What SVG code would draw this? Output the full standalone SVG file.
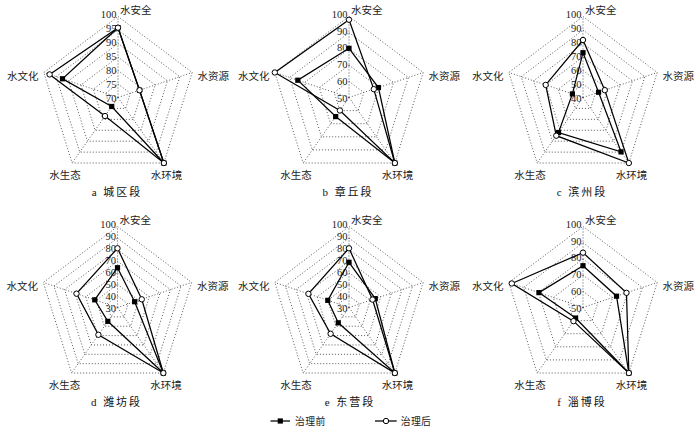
<svg xmlns="http://www.w3.org/2000/svg" xmlns:xlink="http://www.w3.org/1999/xlink" width="700" height="434" viewBox="0 0 700 434">
<style>
.grid{fill:none;stroke:#444;stroke-width:0.9;stroke-dasharray:1 2}
.ser{fill:none;stroke:#000;stroke-width:1.25;stroke-linejoin:miter}
.sq{fill:#000}
.oc{fill:#fff;stroke:#000;stroke-width:1}
.num{font-family:"Liberation Serif",serif;font-size:10.5px;text-anchor:end;fill:#222}
.cat{font-family:"Noto Sans CJK SC",sans-serif;font-size:10.5px;fill:#222}
.cap{font-family:"Liberation Serif","Noto Sans CJK SC",serif;font-size:11px;letter-spacing:2px;text-anchor:middle;fill:#111}
.leg{font-family:"Noto Sans CJK SC",sans-serif;font-size:9.8px;letter-spacing:0.4px;fill:#222}
</style>
<defs>
<path id="spokes" class="grid" d="M0,0V-81M0,0L74.18,-25.03M0,0L45.85,65.53M0,0L-45.85,65.53M0,0L-74.18,-25.03"/>
<polygon id="outer" class="grid" points="0,-81 74.18,-25.03 45.85,65.53 -45.85,65.53 -74.18,-25.03"/>
<g id="grid5">
<polygon class="grid" points="0,-16.2 14.84,-5.01 9.17,13.11 -9.17,13.11 -14.84,-5.01"/>
<polygon class="grid" points="0,-32.4 29.67,-10.01 18.34,26.21 -18.34,26.21 -29.67,-10.01"/>
<polygon class="grid" points="0,-48.6 44.51,-15.02 27.51,39.32 -27.51,39.32 -44.51,-15.02"/>
<polygon class="grid" points="0,-64.8 59.34,-20.02 36.68,52.42 -36.68,52.42 -59.34,-20.02"/>
<use xlink:href="#outer" href="#outer"/>
<use xlink:href="#spokes" href="#spokes"/>
</g>
<g id="grid6">
<polygon class="grid" points="0,-13.5 12.36,-4.17 7.64,10.92 -7.64,10.92 -12.36,-4.17"/>
<polygon class="grid" points="0,-27 24.73,-8.34 15.28,21.84 -15.28,21.84 -24.73,-8.34"/>
<polygon class="grid" points="0,-40.5 37.09,-12.52 22.93,32.77 -22.93,32.77 -37.09,-12.52"/>
<polygon class="grid" points="0,-54 49.45,-16.69 30.57,43.69 -30.57,43.69 -49.45,-16.69"/>
<polygon class="grid" points="0,-67.5 61.82,-20.86 38.21,54.61 -38.21,54.61 -61.82,-20.86"/>
<use xlink:href="#outer" href="#outer"/>
<use xlink:href="#spokes" href="#spokes"/>
</g>
<g id="grid7">
<polygon class="grid" points="0,-11.57 10.6,-3.58 6.55,9.36 -6.55,9.36 -10.6,-3.58"/>
<polygon class="grid" points="0,-23.14 21.19,-7.15 13.1,18.72 -13.1,18.72 -21.19,-7.15"/>
<polygon class="grid" points="0,-34.71 31.79,-10.73 19.65,28.08 -19.65,28.08 -31.79,-10.73"/>
<polygon class="grid" points="0,-46.29 42.39,-14.3 26.2,37.45 -26.2,37.45 -42.39,-14.3"/>
<polygon class="grid" points="0,-57.86 52.99,-17.88 32.75,46.81 -32.75,46.81 -52.99,-17.88"/>
<polygon class="grid" points="0,-69.43 63.58,-21.45 39.3,56.17 -39.3,56.17 -63.58,-21.45"/>
<use xlink:href="#outer" href="#outer"/>
<use xlink:href="#spokes" href="#spokes"/>
</g>
<g id="cats" class="cat">
<text x="2" y="-83.5">水安全</text>
<text x="79.5" y="-17.5">水资源</text>
<text x="48.5" y="81.5" text-anchor="middle">水环境</text>
<text x="-53" y="81.5" text-anchor="middle">水生态</text>
<text x="-79.5" y="-17.5" text-anchor="end">水文化</text>
</g>
<rect id="sq" class="sq" x="-2.6" y="-2.6" width="5.2" height="5.2"/>
<circle id="oc" class="oc" r="2.7"/>
</defs>

<g id="chart-a" transform="translate(118,97.5)">
<use xlink:href="#grid6" href="#grid6"/>
<g class="num">
<text x="-1.5" y="-79.4">100</text><text x="-1.5" y="-65.5">95</text><text x="-1.5" y="-51.6">90</text><text x="-1.5" y="-37.7">85</text><text x="-1.5" y="-23.8">80</text><text x="-1.5" y="-9.9">75</text><text x="-1.5" y="4">70</text>
</g>
<use xlink:href="#cats" href="#cats"/>
<text class="cap" x="-1" y="98">a 城区段</text>
<g id="a-before">
<polygon class="ser" points="0,-69.8 21.51,-7.26 45.85,65.53 -6.28,8.98 -55.49,-18.72"/>
<use href="#sq" x="0" y="-69.8"/><use href="#sq" x="21.51" y="-7.26"/><use href="#sq" x="45.85" y="65.53"/><use href="#sq" x="-6.28" y="8.98"/><use href="#sq" x="-55.49" y="-18.72"/>
</g>
<g id="a-after">
<polygon class="ser" points="0,-69.8 21.51,-7.26 45.85,65.53 -12.98,18.54 -68.39,-23.08"/>
<use href="#oc" x="0" y="-69.8"/><use href="#oc" x="21.51" y="-7.26"/><use href="#oc" x="45.85" y="65.53"/><use href="#oc" x="-12.98" y="18.54"/><use href="#oc" x="-68.39" y="-23.08"/>
</g>
</g>

<g id="chart-b" transform="translate(349,97.5)">
<use xlink:href="#grid5" href="#grid5"/>
<g class="num">
<text x="-1.5" y="-79.4">100</text><text x="-1.5" y="-62.7">90</text><text x="-1.5" y="-46.1">80</text><text x="-1.5" y="-29.4">70</text><text x="-1.5" y="-12.7">60</text><text x="-1.5" y="4">50</text>
</g>
<use xlink:href="#cats" href="#cats"/>
<text class="cap" x="-1" y="98">b 章丘段</text>
<g id="b-before">
<polygon class="ser" points="0,-49.17 29.45,-9.94 45.85,65.53 -13.34,19.07 -51.18,-17.27"/>
<use href="#sq" x="0" y="-49.17"/><use href="#sq" x="29.45" y="-9.94"/><use href="#sq" x="45.85" y="65.53"/><use href="#sq" x="-13.34" y="19.07"/><use href="#sq" x="-51.18" y="-17.27"/>
</g>
<g id="b-after">
<polygon class="ser" points="0,-77.76 24.78,-8.36 45.85,65.53 -9.08,12.97 -74.18,-25.03"/>
<use href="#oc" x="0" y="-77.76"/><use href="#oc" x="24.78" y="-8.36"/><use href="#oc" x="45.85" y="65.53"/><use href="#oc" x="-9.08" y="12.97"/><use href="#oc" x="-74.18" y="-25.03"/>
</g>
</g>

<g id="chart-c" transform="translate(583,97.5)">
<use xlink:href="#grid6" href="#grid6"/>
<g class="num">
<text x="-1.5" y="-79.4">100</text><text x="-1.5" y="-65.5">90</text><text x="-1.5" y="-51.6">80</text><text x="-1.5" y="-37.7">70</text><text x="-1.5" y="-23.8">60</text><text x="-1.5" y="-9.9">50</text><text x="-1.5" y="4">40</text>
</g>
<use xlink:href="#cats" href="#cats"/>
<text class="cap" x="-1" y="98">c 滨州段</text>
<g id="c-before">
<polygon class="ser" points="0,-44.79 15.58,-5.26 38.06,54.39 -24.48,34.99 -10.61,-3.58"/>
<use href="#sq" x="0" y="-44.79"/><use href="#sq" x="15.58" y="-5.26"/><use href="#sq" x="38.06" y="54.39"/><use href="#sq" x="-24.48" y="34.99"/><use href="#sq" x="-10.61" y="-3.58"/>
</g>
<g id="c-after">
<polygon class="ser" points="0,-57.51 21.81,-7.36 45.85,65.53 -26.73,38.2 -37.31,-12.59"/>
<use href="#oc" x="0" y="-57.51"/><use href="#oc" x="21.81" y="-7.36"/><use href="#oc" x="45.85" y="65.53"/><use href="#oc" x="-26.73" y="38.2"/><use href="#oc" x="-37.31" y="-12.59"/>
</g>
</g>

<g id="chart-d" transform="translate(117.5,307.5)">
<use xlink:href="#grid7" href="#grid7"/>
<g class="num">
<text x="-1.5" y="-79.4">100</text><text x="-1.5" y="-67.5">90</text><text x="-1.5" y="-55.6">80</text><text x="-1.5" y="-43.7">70</text><text x="-1.5" y="-31.8">60</text><text x="-1.5" y="-19.8">50</text><text x="-1.5" y="-7.9">40</text><text x="-1.5" y="4">30</text>
</g>
<use xlink:href="#cats" href="#cats"/>
<text class="cap" x="-1" y="98.5">d 潍坊段</text>
<g id="d-before">
<polygon class="ser" points="0,-39.77 17.14,-5.78 45.85,65.53 -9.67,13.83 -22.77,-7.68"/>
<use href="#sq" x="0" y="-39.77"/><use href="#sq" x="17.14" y="-5.78"/><use href="#sq" x="45.85" y="65.53"/><use href="#sq" x="-9.67" y="13.83"/><use href="#sq" x="-22.77" y="-7.68"/>
</g>
<g id="d-after">
<polygon class="ser" points="0,-59.21 24.26,-8.18 45.85,65.53 -19.07,27.26 -41.02,-13.84"/>
<use href="#oc" x="0" y="-59.21"/><use href="#oc" x="24.26" y="-8.18"/><use href="#oc" x="45.85" y="65.53"/><use href="#oc" x="-19.07" y="27.26"/><use href="#oc" x="-41.02" y="-13.84"/>
</g>
</g>

<g id="chart-e" transform="translate(349,307.5)">
<use xlink:href="#grid7" href="#grid7"/>
<g class="num">
<text x="-1.5" y="-79.4">100</text><text x="-1.5" y="-67.5">90</text><text x="-1.5" y="-55.6">80</text><text x="-1.5" y="-43.7">70</text><text x="-1.5" y="-31.8">60</text><text x="-1.5" y="-19.8">50</text><text x="-1.5" y="-7.9">40</text><text x="-1.5" y="4">30</text>
</g>
<use xlink:href="#cats" href="#cats"/>
<text class="cap" x="1" y="98.5">e 东营段</text>
<g id="e-before">
<polygon class="ser" points="0,-45.2 26.26,-8.86 45.85,65.53 -10.73,15.33 -21.21,-7.16"/>
<use href="#sq" x="0" y="-45.2"/><use href="#sq" x="26.26" y="-8.86"/><use href="#sq" x="45.85" y="65.53"/><use href="#sq" x="-10.73" y="15.33"/><use href="#sq" x="-21.21" y="-7.16"/>
</g>
<g id="e-after">
<polygon class="ser" points="0,-59.21 23.52,-7.93 45.85,65.53 -18.39,26.28 -40.58,-13.69"/>
<use href="#oc" x="0" y="-59.21"/><use href="#oc" x="23.52" y="-7.93"/><use href="#oc" x="45.85" y="65.53"/><use href="#oc" x="-18.39" y="26.28"/><use href="#oc" x="-40.58" y="-13.69"/>
</g>
</g>

<g id="chart-f" transform="translate(583,307.5)">
<use xlink:href="#grid5" href="#grid5"/>
<g class="num">
<text x="-1.5" y="-79.4">100</text><text x="-1.5" y="-62.7">90</text><text x="-1.5" y="-46.1">80</text><text x="-1.5" y="-29.4">70</text><text x="-1.5" y="-12.7">60</text><text x="-1.5" y="4">50</text>
</g>
<use xlink:href="#cats" href="#cats"/>
<text class="cap" x="-1" y="98.5">f 淄博段</text>
<g id="f-before">
<polygon class="ser" points="0,-41.8 33.53,-11.31 45.85,65.53 -7.38,10.55 -44.06,-14.87"/>
<use href="#sq" x="0" y="-41.8"/><use href="#sq" x="33.53" y="-11.31"/><use href="#sq" x="45.85" y="65.53"/><use href="#sq" x="-7.38" y="10.55"/><use href="#sq" x="-44.06" y="-14.87"/>
</g>
<g id="f-after">
<polygon class="ser" points="0,-54.84 43.47,-14.67 45.85,65.53 -9.54,13.63 -71.21,-24.03"/>
<use href="#oc" x="0" y="-54.84"/><use href="#oc" x="43.47" y="-14.67"/><use href="#oc" x="45.85" y="65.53"/><use href="#oc" x="-9.54" y="13.63"/><use href="#oc" x="-71.21" y="-24.03"/>
</g>
</g>

<g id="legend">
<line class="ser" x1="270.5" y1="421" x2="290" y2="421"/>
<use href="#sq" x="280.3" y="421"/>
<text class="leg" x="295" y="424.5">治理前</text>
<line class="ser" x1="375" y1="421" x2="396.7" y2="421"/>
<use href="#oc" x="386" y="421"/>
<text class="leg" x="400.7" y="424.5">治理后</text>
</g>
</svg>
